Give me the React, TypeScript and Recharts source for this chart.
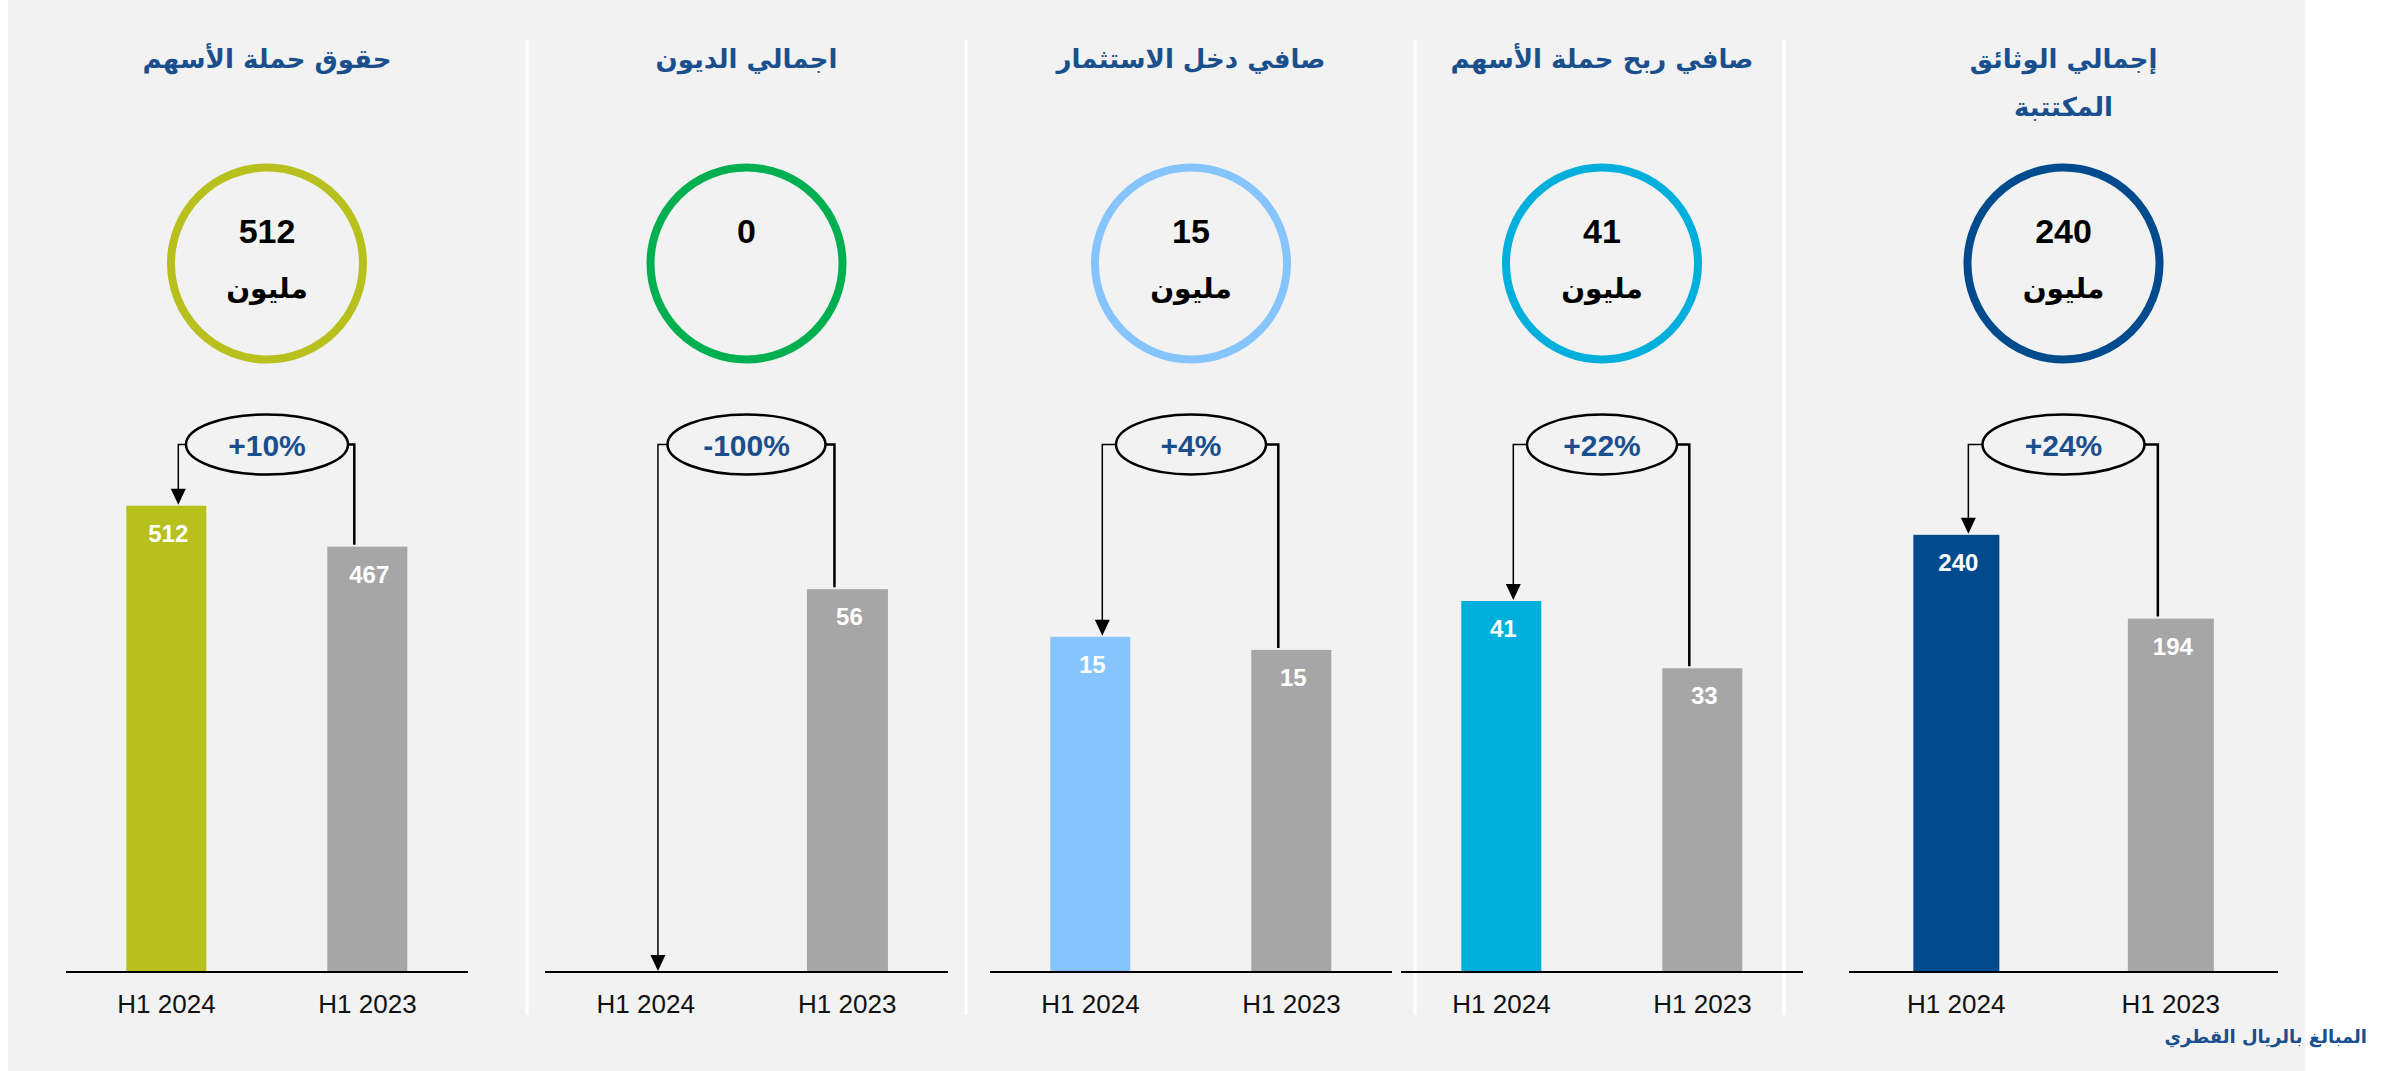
import React from 'react';
import { BarChart, Bar, XAxis, YAxis } from 'recharts';

// values (QAR millions)
const periods = ['H1 2024', 'H1 2023'];
const titles = [
  ['حقوق حملة الأسهم'],
  ['اجمالي الديون'],
  ['صافي دخل الاستثمار'],
  ['صافي ربح حملة الأسهم'],
  ['إجمالي الوثائق', 'المكتتبة'],
];
const currentValues = [512, 0, 15.4, 40.8, 240];
const priorValues = [467, 56, 14.8, 33.4, 194];
const changeLabels = ['+10%', '-100%', '+4%', '+22%', '+24%'];
const unitLabel = 'مليون';
const footnote = 'المبالغ بالريال القطري';

// layout
const panelLeft = [66, 545, 990, 1401, 1849];
const panelWidth = [402, 403, 402, 402, 429];
const axisMax = [650, 86.6, 27.2, 65.1, 325];
const ellipseRx = [81, 79, 75, 75, 81];
const separators = [527, 966, 1415, 1784];
const colors = ['#b8c01d', '#00b050', '#86c4fd', '#00afdb', '#004b8d'];
const GREY = '#a6a6a6';
const BG = '#f2f2f2';
const BLUE_TEXT = '#1a4f8e';
const LATIN = "'Liberation Sans', Arial, sans-serif";
const ARABIC = "'DejaVu Sans', sans-serif";
const BRACKET_Y = 444.5;

function Tick({ x, y, payload }: any) {
  return (
    <text x={x} y={y + 41} textAnchor='middle' fontFamily={LATIN} fontSize={26} fill='#111'>
      {payload.value}
    </text>
  );
}

function Panel({ i }: { i: number }) {
  const w = panelWidth[i];
  const data = periods.map((p, k) => ({ period: p, value: k === 0 ? currentValues[i] : priorValues[i] }));
  const cx = w / 2;
  const rx = ellipseRx[i];

  const shape = (props: any) => {
    const { x, y, width, height, payload } = props;
    const first = payload.period === periods[0];
    const mid = x + width / 2;
    const label = Math.round(payload.value);
    const bar =
      height > 0 ? (
        <>
          <rect x={x} y={y} width={width} height={height} fill={first ? colors[i] : GREY} />
          <text x={mid + 2} y={y + 36} textAnchor='middle' fontFamily={LATIN} fontWeight='bold' fontSize={24} fill='#fff'>
            {label}
          </text>
        </>
      ) : null;

    if (first) {
      // arrow from the change bubble down to the current bar
      const ax = mid + 12;
      const tip = y - 1;
      return (
        <g>
          {bar}
          <polyline
            points={`${cx - rx},${BRACKET_Y} ${ax},${BRACKET_Y} ${ax},${tip - 15}`}
            fill='none'
            stroke='#000'
            strokeWidth={1.5}
          />
          <polygon points={`${ax - 7.5},${tip - 16} ${ax + 7.5},${tip - 16} ${ax},${tip}`} fill='#000' />
          <ellipse cx={cx} cy={BRACKET_Y} rx={rx} ry={30} fill={BG} stroke='#000' strokeWidth={2.5} />
          <text
            x={cx}
            y={BRACKET_Y + 11.5}
            textAnchor='middle'
            fontFamily={LATIN}
            fontWeight='bold'
            fontSize={30}
            fill={BLUE_TEXT}
          >
            {changeLabels[i]}
          </text>
        </g>
      );
    }
    const lx = mid - 13;
    return (
      <g>
        {bar}
        <polyline
          points={`${cx + rx},${BRACKET_Y} ${lx},${BRACKET_Y} ${lx},${y - 2}`}
          fill='none'
          stroke='#000'
          strokeWidth={2.5}
        />
      </g>
    );
  };

  return (
    <div style={{ position: 'absolute', left: panelLeft[i], top: 0 }}>
      <BarChart
        width={w}
        height={1071}
        data={data}
        margin={{ top: 380, right: 0, bottom: 39, left: 0 }}
        barCategoryGap='30%'
      >
        <XAxis
          dataKey='period'
          height={60}
          tickSize={0}
          tickMargin={0}
          tickLine={false}
          axisLine={{ stroke: '#000', strokeWidth: 2 }}
          interval={0}
          tick={<Tick />}
        />
        <YAxis hide width={0} domain={[0, axisMax[i]]} />
        <Bar dataKey='value' isAnimationActive={false} shape={shape} />
      </BarChart>
    </div>
  );
}

function Backdrop() {
  return (
    <svg width={2392} height={1071} style={{ position: 'absolute', left: 0, top: 0 }}>
      <rect x={8} y={0} width={2297} height={1071} fill={BG} />
      {separators.map((sx) => (
        <line key={sx} x1={sx} x2={sx} y1={40} y2={1015} stroke='#fff' strokeWidth={3} />
      ))}
      {titles.map((lines, i) => {
        const c = panelLeft[i] + panelWidth[i] / 2;
        const headline = Math.round(currentValues[i]);
        return (
          <g key={i}>
            {lines.map((t, k) => (
              <text
                key={k}
                x={c}
                y={68 + k * 48}
                textAnchor='middle'
                fontFamily={ARABIC}
                fontWeight='bold'
                fontSize={26}
                fill={BLUE_TEXT}
              >
                {t}
              </text>
            ))}
            <circle cx={c} cy={263.5} r={96} fill='none' stroke={colors[i]} strokeWidth={8} />
            <text x={c} y={243} textAnchor='middle' fontFamily={LATIN} fontWeight='bold' fontSize={34} fill='#000'>
              {headline}
            </text>
            {headline !== 0 && (
              <text x={c} y={298} textAnchor='middle' fontFamily={ARABIC} fontWeight='bold' fontSize={28} fill='#000'>
                {unitLabel}
              </text>
            )}
          </g>
        );
      })}
      <text x={2367} y={1043} textAnchor='end' fontFamily={ARABIC} fontWeight='bold' fontSize={18} fill={BLUE_TEXT}>
        {footnote}
      </text>
    </svg>
  );
}

export default function App() {
  return (
    <div style={{ position: 'absolute', left: 0, top: 0, width: 2392, height: 1071 }}>
      <Backdrop />
      {panelLeft.map((_, i) => (
        <Panel key={i} i={i} />
      ))}
    </div>
  );
}
